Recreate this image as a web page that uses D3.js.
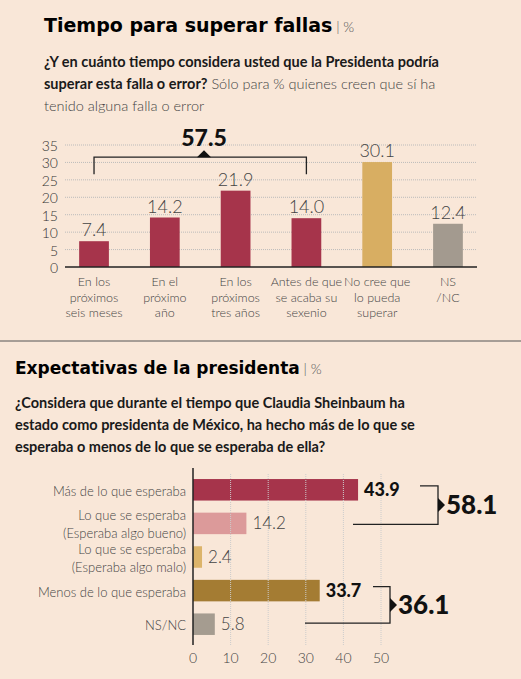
<!DOCTYPE html>
<html><head><meta charset="utf-8">
<script src="https://cdn.jsdelivr.net/npm/d3@7"></script>
<style>
body{margin:0;background:#f9e7d8;}
text{font-family:Lato,"Open Sans",sans-serif;}
</style></head>
<body><div id="chart"></div>
<script>
// data
var cats1 = ["En los|próximos|seis meses","En el|próximo|año","En los|próximos|tres años","Antes de que|se acaba su|sexenio","No cree que|lo pueda|superar","NS|/NC"];
var vals1 = [7.4, 14.2, 21.9, 14.0, 30.1, 12.4];
var cols1 = ["#a6344b","#a6344b","#a6344b","#a6344b","#d8ae62","#a39a8f"];
var yTicks1 = [0,5,10,15,20,25,30,35];

var cats2 = ["Más de lo que esperaba","Lo que se esperaba|(Esperaba algo bueno)","Lo que se esperaba|(Esperaba algo malo)","Menos de lo que esperaba","NS/NC"];
var vals2 = [43.9, 14.2, 2.4, 33.7, 5.8];
var cols2 = ["#a6344b","#dc9a9a","#dcb46a","#a47c33","#a59c90"];
var bold2 = [true,false,false,true,false];
var xTicks2 = [0,10,20,30,40,50];

var W = 521, H = 679;
var svg = d3.select("#chart").append("svg").attr("width", W).attr("height", H);
svg.append("rect").attr("width", W).attr("height", H).attr("fill", "#f9e7d8");

function para(x, y, parts, size, lh) {
  var t = svg.append("text").attr("x", x).attr("y", y).attr("font-size", size).attr("fill", "#1a1a1a");
  parts.forEach(function(line, i) {
    line.forEach(function(p, j) {
      var s = t.append("tspan").text(p[0]).attr("font-weight", p[1] ? 700 : 300)
        .attr("fill", p[1] ? "#1a1a1a" : "#444");
      if (j === 0) s.attr("x", x).attr("dy", i === 0 ? 0 : lh);
    });
  });
}

// ---- chart 1 header
svg.append("text").attr("x", 44).attr("y", 32).attr("font-size", 19).attr("font-weight", 700)
  .style("font-family", "'DejaVu Sans',sans-serif").text("Tiempo para superar fallas")
  .append("tspan").attr("font-weight", 300).attr("fill", "#555").attr("font-size", 14).style("font-family", "Lato").text("  |  %");
para(44, 67, [
  [["¿Y en cuánto tiempo considera usted que la Presidenta podría", true]],
  [["superar esta falla o error?", true], [" Sólo para % quienes creen que sí ha", false]],
  [["tenido alguna falla o error", false]]
], 14.5, 22);

var x1 = d3.scaleBand().domain(d3.range(cats1.length)).range([65, 477]).paddingInner(0.58).paddingOuter(0.2);
var y1 = d3.scaleLinear().domain([0, 35]).range([267, 145]);

var g1 = svg.append("g");
g1.selectAll(".grid").data(yTicks1.slice(1)).enter().append("line")
  .attr("x1", 65).attr("x2", 477).attr("y1", d => y1(d)).attr("y2", d => y1(d))
  .attr("stroke", "#bbb").attr("stroke-dasharray", "1,1");
g1.selectAll(".yt").data(yTicks1).enter().append("text")
  .attr("x", 58).attr("y", d => y1(d) + 6).attr("text-anchor", "end")
  .attr("font-size", 14).attr("font-weight", 300).attr("fill", "#333").text(d => d);
g1.selectAll(".bar").data(vals1).enter().append("rect")
  .attr("x", (d, i) => x1(i)).attr("width", x1.bandwidth())
  .attr("y", d => y1(d)).attr("height", d => y1(0) - y1(d)).attr("fill", (d, i) => cols1[i]);
g1.append("line").attr("x1", 65).attr("x2", 477).attr("y1", y1(0)).attr("y2", y1(0)).attr("stroke", "#222").attr("stroke-width", 1.5);
g1.selectAll(".vl").data(vals1).enter().append("text")
  .attr("x", (d, i) => x1(i) + x1.bandwidth() / 2).attr("y", d => y1(d) - 5)
  .attr("text-anchor", "middle").attr("font-size", 18).attr("font-weight", 300).attr("fill", "#444")
  .text(d => d.toFixed(1));
cats1.forEach(function(c, i) {
  var t = g1.append("text").attr("x", x1(i) + x1.bandwidth() / 2).attr("y", 286)
    .attr("text-anchor", "middle").attr("font-size", 12.5).attr("font-weight", 300).attr("fill", "#444");
  c.split("|").forEach(function(s, k) {
    t.append("tspan").attr("x", x1(i) + x1.bandwidth() / 2).attr("dy", k ? 15.5 : 0).text(s);
  });
});
// bracket 57.5
var bx0 = x1(0) + x1.bandwidth() / 2, bx1 = x1(3) + x1.bandwidth() / 2, by = y1(31.5);
g1.append("path").attr("d", "M" + bx0 + "," + (by + 17) + "V" + by + "H" + bx1 + "V" + (by + 17))
  .attr("fill", "none").attr("stroke", "#222").attr("stroke-width", 1.3);
var bm = 204;
g1.append("path").attr("d", "M" + (bm - 7) + "," + by + "L" + bm + "," + (by - 7) + "L" + (bm + 7) + "," + by + "Z").attr("fill", "#111");
g1.append("text").attr("x", bm).attr("y", by - 11).attr("text-anchor", "middle")
  .attr("font-size", 23).attr("font-weight", 900).attr("fill", "#111").text("57.5");

svg.append("line").attr("x1", 0).attr("x2", W).attr("y1", 341).attr("y2", 341).attr("stroke", "#555").attr("stroke-width", 1);

// ---- chart 2 header
svg.append("text").attr("x", 15).attr("y", 374).attr("font-size", 17).attr("font-weight", 700)
  .style("font-family", "'DejaVu Sans',sans-serif").text("Expectativas de la presidenta")
  .append("tspan").attr("font-weight", 300).attr("fill", "#555").attr("font-size", 14).style("font-family", "Lato").text("  |  %");
para(15, 408, [
  [["¿Considera que durante el tiempo que Claudia Sheinbaum ha", true]],
  [["estado como presidenta de México, ha hecho más de lo que se", true]],
  [["esperaba o menos de lo que se esperaba de ella?", true]]
], 14.5, 22);

var x2 = d3.scaleLinear().domain([0, 50]).range([193, 381]);
var y2 = d3.scaleBand().domain(d3.range(cats2.length)).range([474, 640]).paddingInner(0.36).paddingOuter(0.15);
var g2 = svg.append("g");
g2.selectAll(".bar").data(vals2).enter().append("rect")
  .attr("x", x2(0)).attr("width", d => x2(d) - x2(0))
  .attr("y", (d, i) => y2(i)).attr("height", y2.bandwidth()).attr("fill", (d, i) => cols2[i]);
g2.append("line").attr("x1", x2(0)).attr("x2", x2(0)).attr("y1", 468).attr("y2", 645).attr("stroke", "#222").attr("stroke-width", 1.5);
g2.selectAll(".gt").data(xTicks2.slice(1)).enter().append("line")
  .attr("x1", d => x2(d)).attr("x2", d => x2(d)).attr("y1", 474).attr("y2", 645)
  .attr("stroke", "#ccc").attr("stroke-dasharray", "1,1");
g2.selectAll(".xt").data(xTicks2).enter().append("text")
  .attr("x", d => x2(d)).attr("y", 663).attr("text-anchor", "middle")
  .attr("font-size", 14).attr("font-weight", 300).attr("fill", "#444").text(d => d);
g2.selectAll(".vl").data(vals2).enter().append("text")
  .attr("x", d => x2(d) + 6).attr("y", (d, i) => y2(i) + y2.bandwidth() / 2 + 6)
  .attr("font-size", (d, i) => bold2[i] ? 18 : 17).attr("font-weight", (d, i) => bold2[i] ? 900 : 300)
  .attr("fill", (d, i) => bold2[i] ? "#111" : "#444").text(d => d.toFixed(1));
cats2.forEach(function(c, i) {
  var lines = c.split("|"), cy = y2(i) + y2.bandwidth() / 2;
  var t = g2.append("text").attr("x", 186).attr("text-anchor", "end")
    .attr("y", cy + 5 - (lines.length - 1) * 9 + 1)
    .attr("font-size", 13).attr("font-weight", 300).attr("fill", "#444");
  lines.forEach(function(s, k) { t.append("tspan").attr("x", 186).attr("dy", k ? 18 : 0).text(s); });
});
// brackets
function bracket(ya, yb, xa, xb, xv, label) {
  g2.append("path").attr("d", "M" + xa + "," + ya + "H" + xv + "V" + yb + "H" + xb)
    .attr("fill", "none").attr("stroke", "#222").attr("stroke-width", 1.3);
  var ym = (ya + yb) / 2;
  g2.append("path").attr("d", "M" + xv + "," + (ym - 7) + "L" + (xv + 7) + "," + ym + "L" + xv + "," + (ym + 7) + "Z").attr("fill", "#111");
  g2.append("text").attr("x", xv + 8).attr("y", ym + 9).attr("font-size", 26).attr("font-weight", 900).attr("fill", "#111").text(label);
}
var c0 = y2(0) + y2.bandwidth() / 2, c1 = y2(1) + y2.bandwidth() / 2;
var c3 = y2(3) + y2.bandwidth() / 2, c4 = y2(4) + y2.bandwidth() / 2;
bracket(c0 - 4, c1 + 1, 420, 353, 438, d3.format(".1f")(vals2[0] + vals2[1]));
bracket(c3 - 4, c4 - 1, 373, 305, 390, d3.format(".1f")(vals2[3] + vals2[2]));
</script></body></html>
